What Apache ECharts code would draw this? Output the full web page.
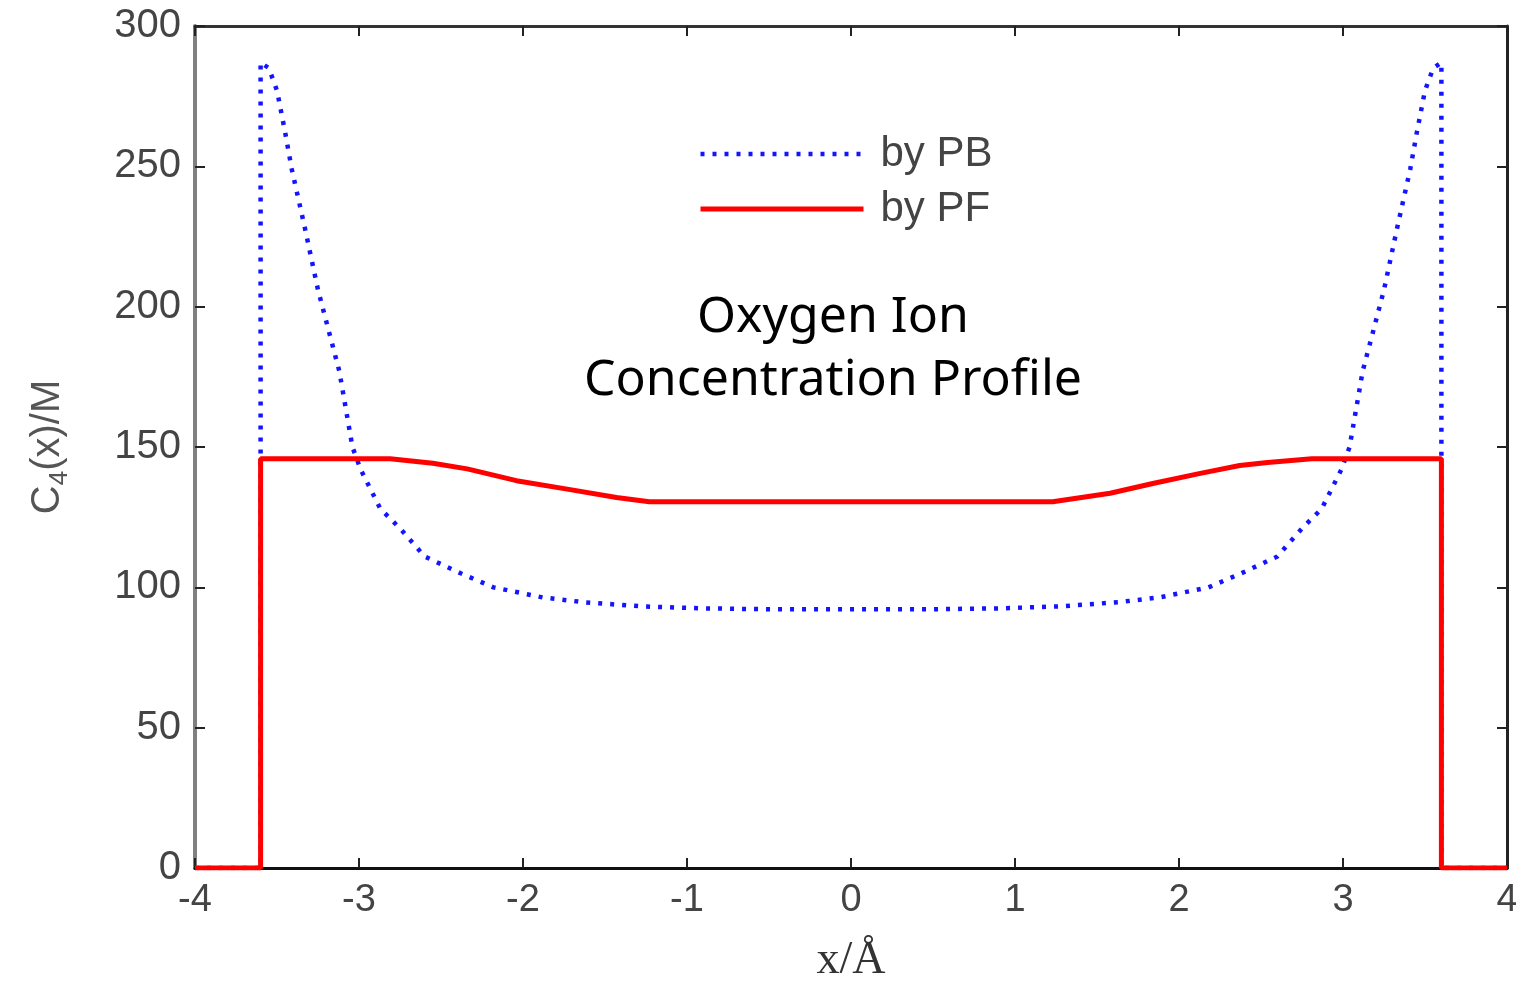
<!DOCTYPE html>
<html>
<head>
<meta charset="utf-8">
<script src="https://cdn.jsdelivr.net/npm/echarts@6/dist/echarts.min.js"></script>
<style>
  html, body { margin: 0; padding: 0; background: #fff; }
  #chart { width: 1516px; height: 983px; }
</style>
</head>
<body>
<div id="chart"></div>
<script>
// x positions (Å) and concentrations (M)
const pbX = [-4, -3.6, -3.6, -3.55, -3.5, -3.45, -3.41, -3.33, -3.25, -3.12, -3.04, -2.99, -2.87, -2.75, -2.6, -2.38, -2.18, -1.88, -1.63, -1.27, -0.9, -0.5, 0,
  0.5, 0.9, 1.27, 1.63, 1.88, 2.18, 2.38, 2.6, 2.75, 2.87, 2.99, 3.04, 3.12, 3.25, 3.33, 3.41, 3.45, 3.5, 3.55, 3.6, 3.6, 4];
const pbY = [0, 0, 287, 285, 277, 262, 249, 228, 206, 177, 150, 142, 128, 121, 111, 105, 100, 96.4, 94.7, 93.2, 92.5, 92.2, 92.2,
  92.2, 92.5, 93.2, 94.7, 96.4, 100, 105, 111, 121, 128, 142, 150, 177, 206, 228, 249, 262, 277, 285, 287, 0, 0];

const pfX = [-4, -3.6, -3.6, -2.81, -2.55, -2.34, -2.04, -1.73, -1.43, -1.23, 1.23, 1.58, 1.84, 2.13, 2.37, 2.54, 2.81, 3.6, 3.6, 4];
const pfY = [0, 0, 145.8, 145.8, 144.2, 142.2, 138, 135, 132, 130.5, 130.5, 133.5, 137, 140.6, 143.4, 144.5, 145.8, 145.8, 0, 0];

const xTicks = [-4, -3, -2, -1, 0, 1, 2, 3, 4];
const yTicks = [0, 50, 100, 150, 200, 250, 300];

const pb = pbX.map((x, i) => [x, pbY[i]]);
const pf = pfX.map((x, i) => [x, pfY[i]]);

const chart = echarts.init(document.getElementById('chart'));

const labelFont = 'Liberation Sans';

chart.setOption({
  backgroundColor: '#fff',
  animation: false,
  grid: { left: 195, right: 9, top: 26, bottom: 115, outerBoundsMode: 'none' },
  legend: {
    orient: 'vertical',
    left: 698,
    top: 133,
    padding: 0,
    itemWidth: 163,
    itemHeight: 20,
    itemGap: 13,
    itemStyle: { opacity: 0 },
    lineStyle: { width: 'inherit' },
    textStyle: {
      fontFamily: labelFont,
      fontSize: 42,
      color: '#444',
      padding: [0, 0, 0, 12]
    },
    data: ['by PB', 'by PF']
  },
  graphic: [{
    type: 'text',
    x: 833,
    y: 349,
    style: {
      text: 'Oxygen Ion\nConcentration Profile',
      font: '50px "Noto Sans"',
      fill: '#000',
      align: 'center',
      verticalAlign: 'middle',
      lineHeight: 63
    }
  }],
  xAxis: [{
    type: 'value',
    min: -4,
    max: 4,
    interval: 1,
    position: 'bottom',
    name: 'x/Å',
    nameLocation: 'middle',
    nameGap: 70,
    nameTextStyle: { fontFamily: 'Liberation Serif', fontSize: 46, color: '#333' },
    axisLine: { onZero: false, lineStyle: { color: '#111', width: 3 } },
    axisTick: { inside: true, length: 10, lineStyle: { color: '#222', width: 2 } },
    axisLabel: {
      fontFamily: labelFont, fontSize: 38, color: '#444', margin: 14,
      formatter: v => xTicks.includes(v) ? String(v) : ''
    },
    splitLine: { show: false }
  }, {
    type: 'value',
    min: -4,
    max: 4,
    interval: 1,
    position: 'top',
    axisLine: { onZero: false, lineStyle: { color: '#333', width: 3 } },
    axisTick: { inside: true, length: 10, lineStyle: { color: '#222', width: 2 } },
    axisLabel: { show: false },
    splitLine: { show: false }
  }],
  yAxis: [{
    type: 'value',
    min: 0,
    max: 300,
    interval: 50,
    position: 'left',
    name: '{c|C}{s|4}{c|(x)/M}',
    nameLocation: 'middle',
    nameRotate: 90,
    nameGap: 122,
    nameTextStyle: {
      rich: {
        c: { fontFamily: labelFont, fontSize: 40, color: '#555', lineHeight: 50, verticalAlign: 'middle' },
        s: { fontFamily: labelFont, fontSize: 26, color: '#555', lineHeight: 50, verticalAlign: 'bottom' }
      }
    },
    axisLine: { onZero: false, lineStyle: { color: '#808080', width: 4 } },
    axisTick: { inside: true, length: 10, lineStyle: { color: '#222', width: 2 } },
    axisLabel: {
      fontFamily: labelFont, fontSize: 40, color: '#444', margin: 14,
      formatter: v => yTicks.includes(v) ? String(v) : ''
    },
    splitLine: { show: false }
  }, {
    type: 'value',
    min: 0,
    max: 300,
    interval: 50,
    position: 'right',
    axisLine: { onZero: false, lineStyle: { color: '#222', width: 3 } },
    axisTick: { inside: true, length: 10, lineStyle: { color: '#222', width: 2 } },
    axisLabel: { show: false },
    splitLine: { show: false }
  }],
  series: [{
    name: 'by PB',
    type: 'line',
    data: pb,
    symbol: 'none',
    lineStyle: { color: '#1414ff', width: 4.5, type: [4, 8], cap: 'butt' },
    itemStyle: { color: '#1414ff' }
  }, {
    name: 'by PF',
    type: 'line',
    data: pf,
    symbol: 'none',
    lineStyle: { color: '#ff0000', width: 5 },
    itemStyle: { color: '#ff0000' }
  }]
});
</script>
</body>
</html>
